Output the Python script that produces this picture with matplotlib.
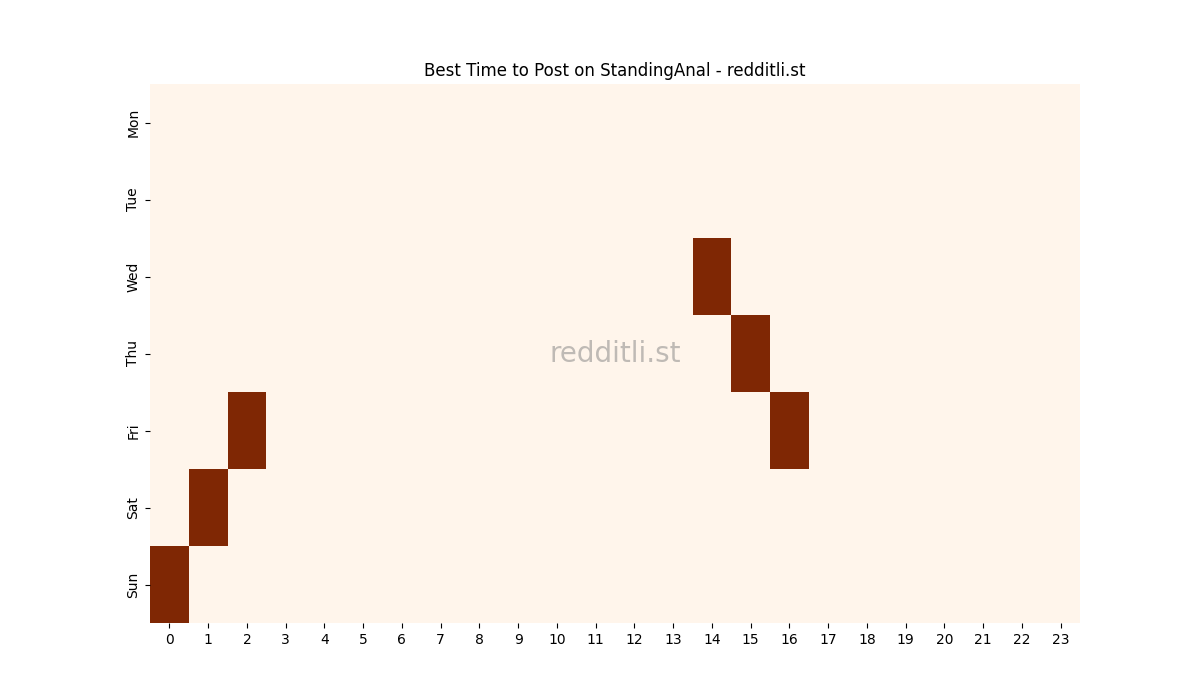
import numpy as np
import matplotlib
matplotlib.use('Agg')
import matplotlib.pyplot as plt
import seaborn as sns

days = ['Mon', 'Tue', 'Wed', 'Thu', 'Fri', 'Sat', 'Sun']
hours = list(range(24))

# best hours per day (day -> list of hours)
best_hours = {
    'Wed': [14],
    'Thu': [15],
    'Fri': [2, 16],
    'Sat': [1],
    'Sun': [0],
}

grid = np.zeros((len(days), len(hours)))
for d, hs in best_hours.items():
    for h in hs:
        grid[days.index(d), h] = 1

fig = plt.figure(figsize=(12, 7), dpi=100)
ax = fig.add_subplot(111)
sns.heatmap(grid, cmap='Oranges', cbar=False, ax=ax,
            xticklabels=hours, yticklabels=days)
ax.set_yticklabels(days, rotation=90, va='center')
ax.set_xticklabels(hours, rotation=0)
ax.set_title('Best Time to Post on StandingAnal - redditli.st')
ax.text(0.5, 0.5, 'redditli.st', transform=ax.transAxes,
        ha='center', va='center', fontsize=20, color='grey', alpha=0.5)

fig.savefig('out.png')
